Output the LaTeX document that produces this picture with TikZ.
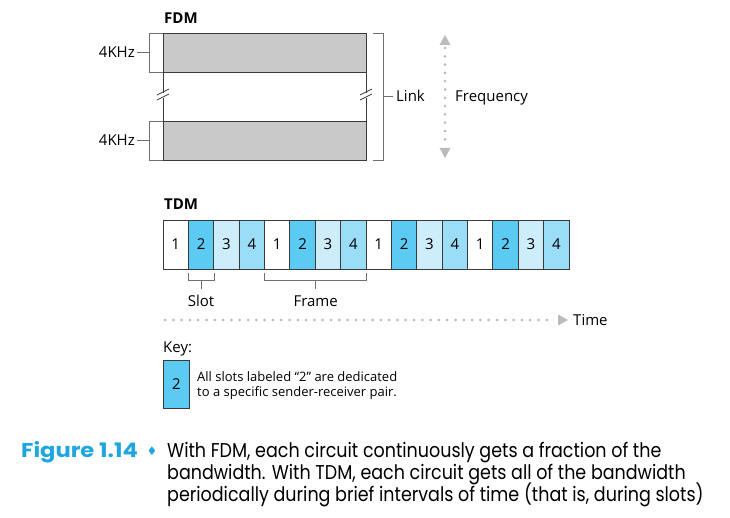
\documentclass[tikz,border=0pt]{standalone}
\usepackage{fontspec}
\setmainfont{Open Sans}
\newfontfamily\capfont[FakeStretch=0.875]{Poppins}
\newfontfamily\capbold[FakeStretch=1.13]{Poppins Bold}
\usetikzlibrary{arrows.meta}
\definecolor{sltwo}{HTML}{5CCBF4}
\definecolor{slthree}{HTML}{CDEDFA}
\definecolor{slfour}{HTML}{9ADDF7}
\definecolor{fdmgray}{HTML}{C9C9C9}
\definecolor{edge}{HTML}{3A3A3A}
\definecolor{brk}{HTML}{707070}
\definecolor{dotg}{HTML}{BBBBBB}
\definecolor{figcyan}{HTML}{1DA6E0}
\tikzset{
  lbl/.style={font=\fontsize{15}{17}\selectfont, inner sep=0pt},
  ttl/.style={font=\fontsize{15}{17}\selectfont\bfseries, inner sep=0pt, anchor=base west},
  slotbox/.style={draw=edge, line width=0.8pt, minimum width=25.375pt, minimum height=49pt, inner sep=0pt, font=\fontsize{15}{17}\selectfont},
  brak/.style={draw=brk, line width=0.7pt},
  dotline/.style={draw=dotg, line width=3pt, line cap=round, dash pattern=on 0pt off 8.3pt},
  tri/.style={fill=dotg, draw=none},
  keytxt/.style={font=\fontsize{13}{15}\selectfont, inner sep=0pt, anchor=base west},
  captxt/.style={font=\capfont\fontsize{20}{22}\selectfont, inner sep=0pt, anchor=base west},
}
\begin{document}
\begin{tikzpicture}[x=1pt,y=-1pt]
\useasboundingbox (0,0) rectangle (730,518);
% FDM
\node[ttl] (fdmt) at (164,24) {FDM};
\node[draw=edge, fill=fdmgray, line width=0.8pt, minimum width=203pt, minimum height=39pt, inner sep=0pt, anchor=north west] (top) at (163,33) {};
\node[draw=edge, fill=fdmgray, line width=0.8pt, minimum width=203pt, minimum height=39pt, inner sep=0pt, anchor=north west] (bot) at (163,121) {};
\draw[edge, line width=0.8pt] (top.south west) -- ++(0,20.5) ++(0,5) -- (bot.north west);
\draw[edge, line width=0.8pt] (top.south east) -- ++(0,20.5) ++(0,5) -- (bot.north east);
\foreach \xx in {163,366}{
  \draw[edge, line width=0.7pt] (\xx-6,95) -- (\xx+6,89);
  \draw[edge, line width=0.7pt] (\xx-6,100) -- (\xx+6,94);
}
% left brackets
\draw[brak] (162.5,33) -- (149.5,33) -- (149.5,72) -- (162.5,72);
\draw[brak] (149.5,52.5) -- (137,52.5);
\node[lbl, anchor=east] (k1) at (135,52.5) {4KHz};
\draw[brak] (162.5,121) -- (149.5,121) -- (149.5,160) -- (162.5,160);
\draw[brak] (149.5,140.5) -- (137,140.5);
\node[lbl, anchor=east] (k2) at (135,140.5) {4KHz};
% link bracket
\draw[brak] (373,33) -- (383,33) -- (383,160) -- (373,160);
\draw[brak] (383,96) -- (393,96);
\node[lbl, anchor=base west] (link) at (396,101.5) {Link};
% frequency arrow
\coordinate (fa) at (445,48);
\coordinate (fb) at (445,146);
\draw[dotline] (fa) -- (fb);
\fill[tri] (445,35) -- (450.5,45) -- (439.5,45) -- cycle;
\fill[tri] (445,158) -- (450.5,148) -- (439.5,148) -- cycle;
\node[lbl, anchor=base west] (freq) at (455,101.5) {Frequency};
% TDM
\node[ttl] (tdmt) at (164,210) {TDM};
\foreach \i/\c/\n in {1/white/1,2/sltwo/2,3/slthree/3,4/slfour/4,5/white/1,6/sltwo/2,7/slthree/3,8/slfour/4,9/white/1,10/sltwo/2,11/slthree/3,12/slfour/4,13/white/1,14/sltwo/2,15/slthree/3,16/slfour/4}{
  \node[slotbox, fill=\c] (s\i) at ({163+25.375*(\i-0.5)},244.5) {\n};
}
% slot bracket
\draw[brak] ([yshift=-4pt]s2.south west) -- ++(0,7) -| ([yshift=-4pt]s2.south east);
\draw[brak] ([yshift=-11pt]s2.south) -- ++(0,9);
\node[lbl, anchor=base] (slotl) at ([yshift=-37pt]s2.south) {Slot};
% frame bracket
\draw[brak] ([yshift=-4pt]s5.south west) -- ++(0,7) -| ([yshift=-4pt]s8.south east);
\draw[brak] ([yshift=-11pt]s6.south east) -- ++(0,9);
\node[lbl, anchor=base] (framel) at ([yshift=-37pt]s6.south east) {Frame};
% time arrow
\coordinate (ta) at (165,320);
\coordinate (tb) at (553,320);
\draw[dotline] (ta) -- (tb);
\fill[tri] (568,320) -- (558,314.5) -- (558,325.5) -- cycle;
\node[lbl, anchor=west] (time) at (573,320) {Time};
% key
\node[lbl, anchor=base west] (key) at (163,352) {Key:};
\node[draw=edge, fill=sltwo, line width=0.8pt, minimum width=26pt, minimum height=48pt, inner sep=0pt, anchor=north west, font=\fontsize{15}{17}\selectfont] (kb) at (163,360) {2};
\node[keytxt] (kt1) at (197,381) {All slots labeled “2” are dedicated};
\node[keytxt] (kt2) at (197,396) {to a specific sender-receiver pair.};
% caption
\node[font=\capbold\fontsize{20}{22}\selectfont, text=figcyan, inner sep=0pt, anchor=base west] (fig) at (21,457) {Figure 1.14};
\node[text=figcyan, inner sep=0pt] (dia) at (152,451) {\fontspec{DejaVu Sans}\fontsize{12}{13}\selectfont ♦};
\node[captxt] (c1) at (167,457) {With FDM, each circuit continuously gets a fraction of the};
\node[captxt] (c2) at (167,479) {bandwidth. With TDM, each circuit gets all of the bandwidth};
\node[captxt] (c3) at (167,501) {periodically during brief intervals of time (that is, during slots)};
\end{tikzpicture}
\end{document}
